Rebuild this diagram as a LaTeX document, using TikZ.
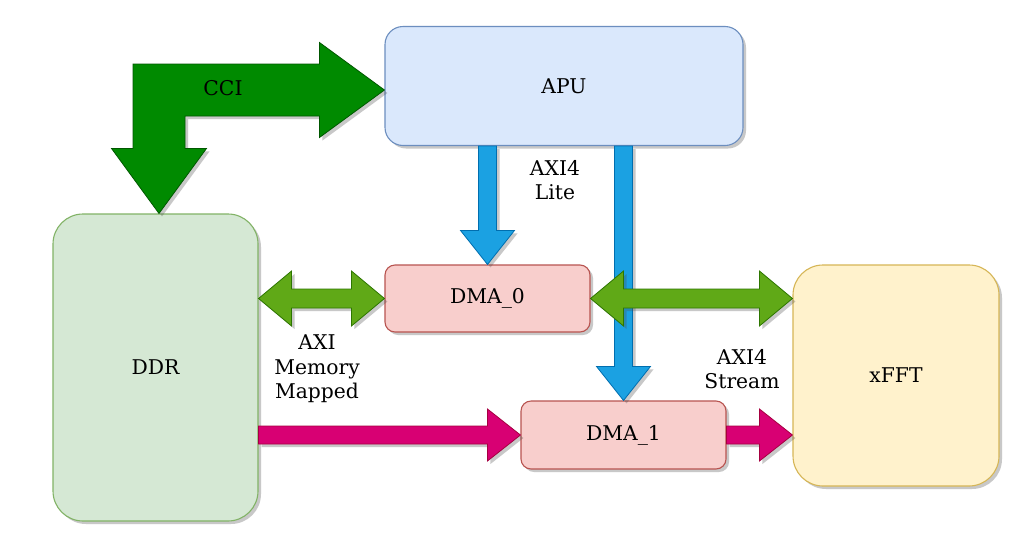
\documentclass[tikz,border=0pt]{standalone}
\usepackage{fontspec}
\setmainfont{DejaVu Serif}
\usetikzlibrary{calc,shadows}
\definecolor{apuF}{HTML}{DAE8FC}\definecolor{apuD}{HTML}{6C8EBF}
\definecolor{ddrF}{HTML}{D5E8D4}\definecolor{ddrD}{HTML}{82B366}
\definecolor{dmaF}{HTML}{F8CECC}\definecolor{dmaD}{HTML}{B85450}
\definecolor{fftF}{HTML}{FFF2CC}\definecolor{fftD}{HTML}{D6B656}
\definecolor{cciF}{HTML}{008A00}\definecolor{cciD}{HTML}{005700}
\definecolor{bluF}{HTML}{1BA1E2}\definecolor{bluD}{HTML}{006EAF}
\definecolor{grnF}{HTML}{60A917}\definecolor{grnD}{HTML}{2D7600}
\definecolor{magF}{HTML}{D80073}\definecolor{magD}{HTML}{A50040}
\tikzset{
  shad/.style={drop shadow={shadow xshift=3pt,shadow yshift=-3pt,opacity=0.3,fill=black!70}},
  blockbox/.style={draw,line width=1.1pt,rectangle,inner sep=0pt,shad},
  fatarrow/.style={line width=0.8pt,line join=miter,shad},
  lbl/.style={align=center,inner sep=0pt}
}
\newcommand\fatsingle[6]{%
  \coordinate (fac) at ($(#3)!#6!(#2)$);
  \draw[#1] ($(#2)!#4!90:(#3)$) -- ($(fac)!#4!90:(#3)$) -- ($(fac)!#5!90:(#3)$) -- (#3)
    -- ($(fac)!#5!-90:(#3)$) -- ($(fac)!#4!-90:(#3)$) -- ($(#2)!#4!-90:(#3)$) -- cycle;
}
\newcommand\fatdouble[6]{%
  \coordinate (faca) at ($(#2)!#6!(#3)$);
  \coordinate (facb) at ($(#3)!#6!(#2)$);
  \draw[#1] (#2) -- ($(faca)!#5!90:(#3)$) -- ($(faca)!#4!90:(#3)$) -- ($(facb)!#4!90:(#3)$)
    -- ($(facb)!#5!90:(#3)$) -- (#3) -- ($(facb)!#5!-90:(#3)$) -- ($(facb)!#4!-90:(#3)$)
    -- ($(faca)!#4!-90:(#3)$) -- ($(faca)!#5!-90:(#3)$) -- cycle;
}
\begin{document}
\begin{tikzpicture}[x=1pt,y=-1pt,font=\fontsize{20.3}{24.5}\selectfont]
\useasboundingbox[fill=white] (0,0) rectangle (1024,544);
% blocks
\node[blockbox,fill=apuF,draw=apuD,rounded corners=18pt,minimum width=358pt,minimum height=119pt] (apu) at (564,86) {APU};
\node[blockbox,fill=ddrF,draw=ddrD,rounded corners=30pt,minimum width=205pt,minimum height=307pt] (ddr) at (155.5,367.5) {DDR};
\node[blockbox,fill=dmaF,draw=dmaD,rounded corners=10pt,minimum width=205pt,minimum height=67pt] (dma0) at (487.5,298.5) {DMA\_0};
\node[blockbox,fill=dmaF,draw=dmaD,rounded corners=10pt,minimum width=205pt,minimum height=68pt] (dma1) at (623.5,435) {DMA\_1};
\node[blockbox,fill=fftF,draw=fftD,rounded corners=30pt,minimum width=206pt,minimum height=221pt] (xfft) at (896,375.5) {xFFT};
% connector end points
\coordinate (b1s) at (dma0.north |- apu.south);
\coordinate (b2s) at (dma1.north |- apu.south);
\coordinate (g1s) at (ddr.east |- dma0.west);
\coordinate (g2e) at (xfft.west |- dma0.east);
\coordinate (m1s) at (ddr.east |- dma1.west);
\coordinate (m2e) at (xfft.west |- dma1.east);
\coordinate (ccta) at ($(apu.west)+(0,4)$);
\coordinate (cctb) at ($(ddr.north)+(3.5,0)$);
\coordinate (cck) at (cctb |- ccta);
% CCI elbow arrow
\draw[fatarrow,fill=cciF,draw=cciD]
  ($(cck)+(-26,-26)$) -- ($(ccta)+(-65,-26)$) -- ($(ccta)+(-65,-47.5)$) -- (ccta)
  -- ($(ccta)+(-65,47.5)$) -- ($(ccta)+(-65,26)$) -- ($(cck)+(26,26)$)
  -- ($(cctb)+(26,-65)$) -- ($(cctb)+(47.5,-65)$) -- (cctb)
  -- ($(cctb)+(-47.5,-65)$) -- ($(cctb)+(-26,-65)$) -- cycle;
% AXI4 Lite arrows
\fatsingle{fatarrow,fill=bluF,draw=bluD}{b1s}{dma0.north}{9pt}{27pt}{34pt}
\fatsingle{fatarrow,fill=bluF,draw=bluD}{b2s}{dma1.north}{9pt}{27pt}{34pt}
% AXI memory mapped arrows
\fatdouble{fatarrow,fill=grnF,draw=grnD}{g1s}{dma0.west}{9.5pt}{27.5pt}{33pt}
\fatdouble{fatarrow,fill=grnF,draw=grnD}{dma0.east}{g2e}{9.5pt}{27.5pt}{33pt}
% AXI4 stream arrows
\fatsingle{fatarrow,fill=magF,draw=magD}{m1s}{dma1.west}{9pt}{26pt}{33pt}
\fatsingle{fatarrow,fill=magF,draw=magD}{dma1.east}{m2e}{9pt}{26pt}{33pt}
% labels
\node[lbl] (lcci) at (223,88) {CCI};
\node[lbl] (llite) at (555,180) {AXI4\\Lite};
\node[lbl] (lmm) at (317,369) {AXI\\Memory\\Mapped};
\node[lbl] (lstr) at (742,369) {AXI4\\Stream};
\end{tikzpicture}
\end{document}
